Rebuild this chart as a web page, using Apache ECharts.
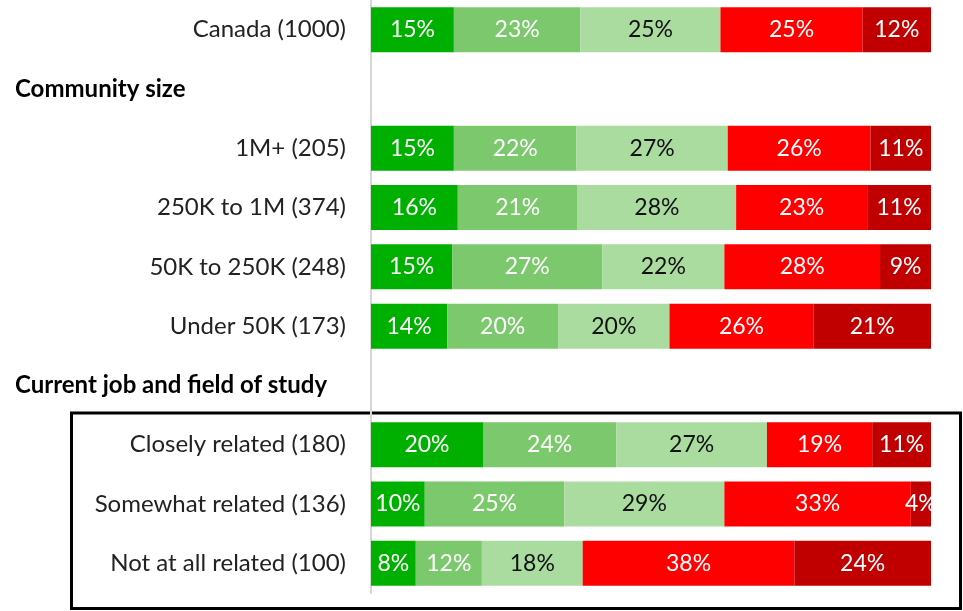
<!DOCTYPE html>
<html>
<head>
<meta charset="utf-8">
<script src="https://cdn.jsdelivr.net/npm/echarts@6/dist/echarts.min.js"></script>
<style>
  html, body { margin: 0; padding: 0; background: #fff; }
  #chart { width: 963px; height: 611px; }
</style>
</head>
<body>
<div id="chart"></div>
<script>
  // rows from top to bottom, two of them are section headings
  var categories = ['Canada (1000)', 'Community size', '1M+ (205)', '250K to 1M (374)', '50K to 250K (248)',
    'Under 50K (173)', 'Current job and field of study', 'Closely related (180)',
    'Somewhat related (136)', 'Not at all related (100)'];
  var headings = ['Community size', 'Current job and field of study'];

  // share of answers per segment (%)
  var seg1 = [14.8, '-', 14.8, 15.5, 14.5, 13.6, '-', 20.0, 9.6, 8.0];
  var seg2 = [22.6, '-', 21.9, 21.4, 26.8, 19.8, '-', 23.8, 24.9, 11.8];
  var seg3 = [25.0, '-', 27.0, 28.3, 21.8, 19.9, '-', 26.9, 28.6, 18.0];
  var seg4 = [25.4, '-', 25.5, 23.4, 27.8, 25.7, '-', 18.8, 33.3, 37.8];
  var seg5 = [12.2, '-', 10.8, 11.4, 9.1, 21.0, '-', 10.5, 3.6, 24.4];

  var colors = ['#00b000', '#7cc86c', '#aadca0', '#ff0000', '#c00000'];
  var labelColors = ['#fff', '#fff', '#111', '#fff', '#fff'];
  var font = 'Lato, "Noto Sans", sans-serif';

  function makeSeries(data, i) {
    return {
      type: 'bar',
      stack: 'total',
      data: data,
      barWidth: 45,
      itemStyle: { color: colors[i] },
      label: {
        show: true,
        position: 'inside',
        color: labelColors[i],
        fontFamily: font,
        fontSize: 23,
        formatter: function (p) { return Math.round(p.value) + '%'; }
      },
      silent: true
    };
  }

  var chart = echarts.init(document.getElementById('chart'));
  chart.setOption({
    animation: false,
    grid: { left: 371, right: 32, top: 0, height: 593 },
    xAxis: { type: 'value', min: 0, max: 100, show: false },
    yAxis: {
      type: 'category',
      inverse: true,
      data: categories,
      axisTick: { show: false },
      axisLine: { show: true, lineStyle: { color: '#d6d6d6', width: 2 } },
      axisLabel: {
        interval: 0,
        margin: 25,
        color: '#222',
        fontFamily: font,
        fontSize: 24,
        formatter: function (v) {
          return headings.indexOf(v) >= 0 ? '{h|' + v + '}' : v;
        },
        rich: {
          h: { width: 331, align: 'left', color: '#000', fontFamily: font, fontSize: 24, fontWeight: 'bold' }
        }
      }
    },
    series: [makeSeries(seg1, 0), makeSeries(seg2, 1), makeSeries(seg3, 2), makeSeries(seg4, 3), makeSeries(seg5, 4)],
    graphic: [{
      type: 'rect',
      shape: { x: 71.5, y: 413, width: 889, height: 195.5 },
      style: { fill: 'none', stroke: '#000', lineWidth: 3 }
    }]
  });
</script>
</body>
</html>
